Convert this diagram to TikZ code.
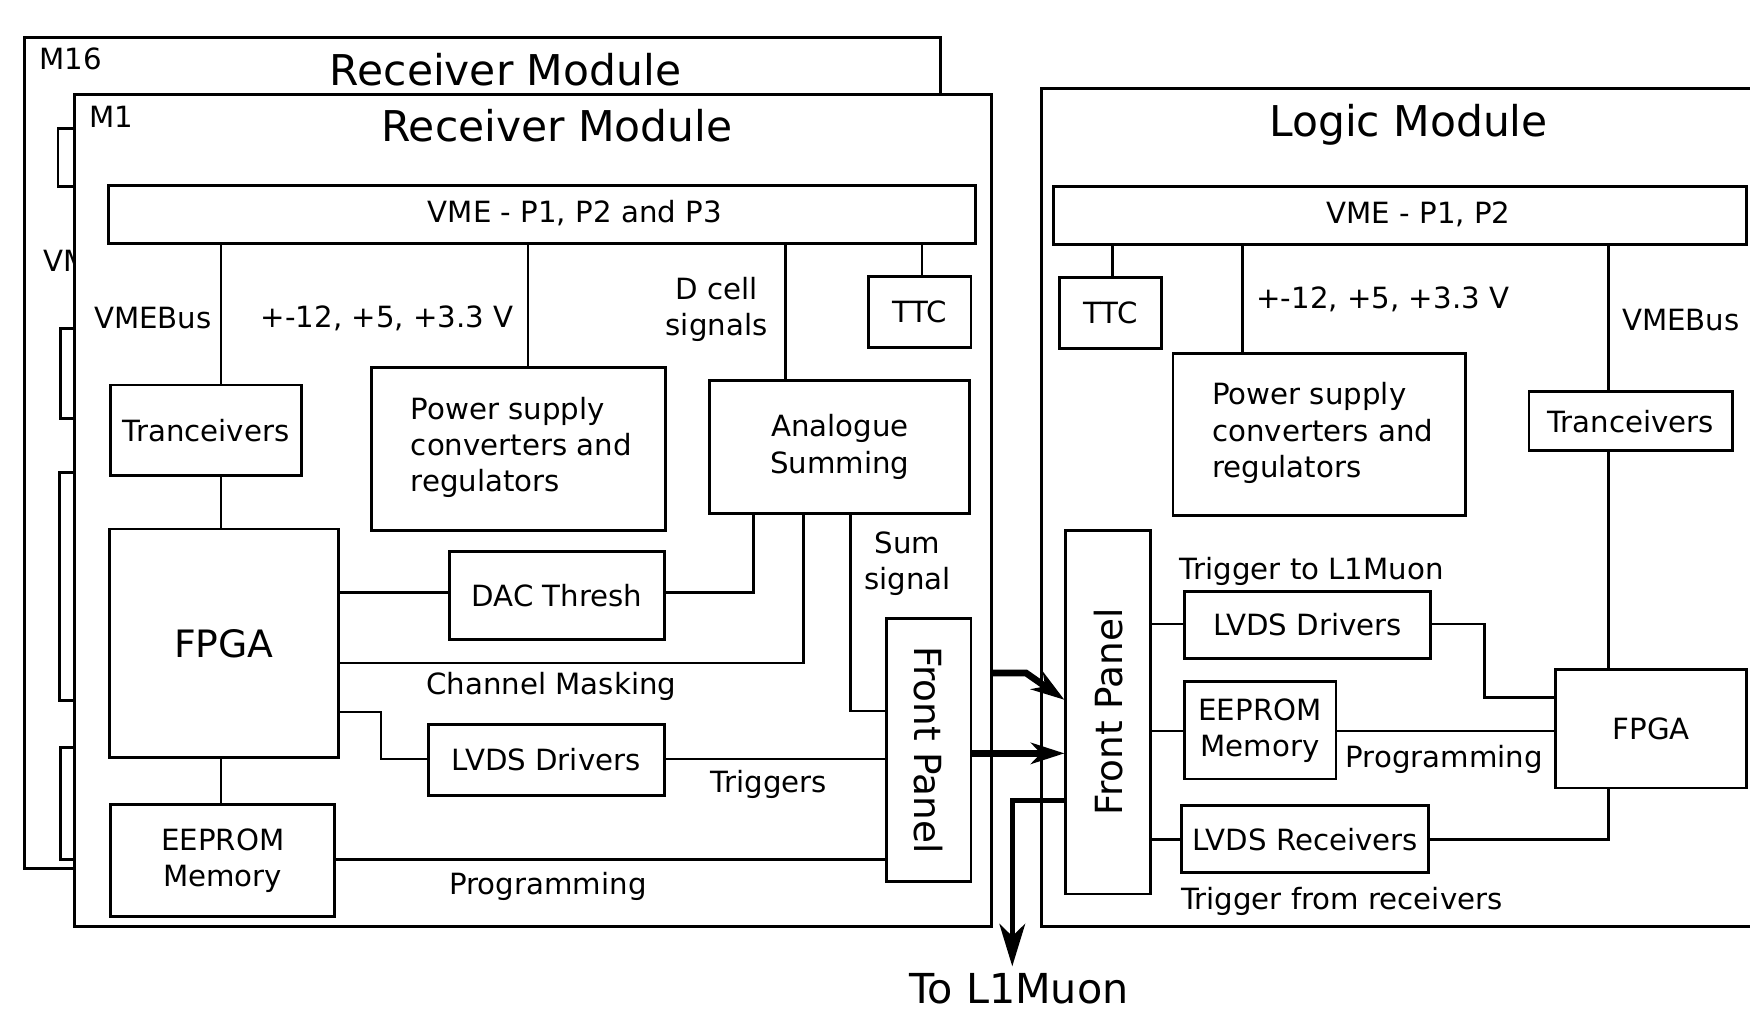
\documentclass[tikz,border=0pt]{standalone}
\usepackage{fontspec}
\setmainfont{DejaVu Sans}
\usetikzlibrary{arrows.meta}
\newcommand{\fsN}{\fontsize{26.2}{32.5}\selectfont}
\newcommand{\fsT}{\fontsize{38}{45}\selectfont}
\newcommand{\fsF}{\fontsize{33.8}{40}\selectfont}
\newcommand{\fsP}{\fontsize{33.5}{40}\selectfont}
\newcommand{\fsL}{\fontsize{37}{44}\selectfont}
\tikzset{
  blk/.style={draw, line width=2.6pt, inner sep=0pt, align=center, font=\fsN},
  conn/.style={line width=2.4pt},
  lbl/.style={inner sep=0pt, align=center, font=\fsN},
  ttl/.style={inner sep=0pt, font=\fsT},
  bigarrow/.style={line width=6pt, -{Stealth[length=30pt,width=19pt,inset=9pt]}},
  outarrow/.style={line width=4.5pt, -{Stealth[length=38pt,width=23pt,inset=11pt]}},
}
% \bnode[opts]{name}{left}{top}{right}{bottom}{text}
\newcommand{\bnode}[7][]{\node[blk,#1,minimum width=#5pt-#3pt,minimum height=#6pt-#4pt] (#2) at ({(#3+#5)/2},{(#4+#6)/2}) {#7};}
\begin{document}
\begin{tikzpicture}[x=1pt,y=-1pt]
\clip (0,0) rectangle (1568,907);
\fill[white] (0,0) rectangle (1568,907);

% ---------------- M16 (behind) ----------------
\bnode{m16}{22}{34}{843}{778}{}
\node[lbl,anchor=west] (m16lab) at (35,53) {M16};
\node[ttl] (m16ttl) at (453,62) {Receiver Module};
\bnode{vme0}{52}{115}{829}{167}{}
\bnode{trx0}{54}{294}{225}{375}{}
\bnode{fpga0}{53}{423}{258}{628}{}
\bnode{eep0}{54}{670}{255}{770}{}
\node[lbl] (vb0) at (92,234) {VMEBus};

% ---------------- M1 ----------------
\bnode[fill=white]{m1}{67}{85}{888}{830}{}
\node[lbl,anchor=west] (m1lab) at (80,105) {M1};
\node[ttl] (m1ttl) at (499,113) {Receiver Module};

\bnode{vme1}{97}{166}{874}{218}{}
\node[lbl] (vme1t) at (515,191) {VME - P1, P2 and P3};
\bnode{ttc1}{778}{248}{870}{311}{TTC}
\bnode{trx1}{99}{345}{270}{426}{Tranceivers}
\bnode{psu1}{333}{329}{596}{475}{}
\node[lbl,align=left,anchor=west] (psu1t) at (368,401) {Power supply\\converters and\\regulators};
\bnode{ana1}{636}{341}{869}{460}{Analogue\\Summing}
\bnode[font=\fsF]{fpga1}{98}{474}{303}{679}{FPGA}
\bnode{dac1}{403}{494}{595}{573}{DAC Thresh}
\bnode{fp1}{794}{554}{870}{790}{}
\node[inner sep=0pt,font=\fsP,rotate=-90] (fp1t) at (fp1.center) {Front Panel};
\bnode{lvds1}{384}{649}{595}{713}{LVDS Drivers}
\bnode{eep1}{99}{721}{300}{821}{EEPROM\\Memory}

\node[lbl] (vb1) at (137,285) {VMEBus};
\node[lbl] (pw1) at (347,285) {+-12, +5, +3.3 V};
\node[lbl] (dc1) at (642,277) {D cell\\signals};
\node[lbl] (ss1) at (813,505) {Sum\\signal};
\node[lbl] (cm1) at (494,615) {Channel Masking};
\node[lbl] (tr1) at (689,703) {Triggers};
\node[lbl] (pg1) at (491,794) {Programming};

\draw[conn] (trx1.north -| 198,0) -- (vme1.south -| 198,0);
\draw[conn] (psu1.north -| 473,0) -- (vme1.south -| 473,0);
\draw[conn] (ana1.north -| 704,0) -- (vme1.south -| 704,0);
\draw[conn] (ttc1.north -| 826,0) -- (vme1.south -| 826,0);
\draw[conn] (trx1.south -| 198,0) -- (fpga1.north -| 198,0);
\draw[conn] (fpga1.east |- 0,531) -- (dac1.west |- 0,531);
\draw[conn] (dac1.east |- 0,531) -| (ana1.south -| 675,0);
\draw[conn] (fpga1.east |- 0,594) -| (ana1.south -| 720,0);
\draw[conn] (ana1.south -| 762,0) |- (fp1.west |- 0,637);
\draw[conn] (fpga1.east |- 0,638) -- ++(37,0) |- (lvds1.west |- 0,680);
\draw[conn] (lvds1.east |- 0,680) -- (fp1.west |- 0,680);
\draw[conn] (fpga1.south -| 198,0) -- (eep1.north -| 198,0);
\draw[conn] (eep1.east |- 0,770) -- (fp1.west |- 0,770);

% ---------------- Logic Module ----------------
\bnode{lm}{933}{79}{1600}{830}{}
\node[ttl] (lmttl) at (1262,112) {Logic Module};
\bnode{vme2}{944}{167}{1565}{219}{}
\node[lbl] (vme2t) at (1271,192) {VME - P1, P2};
\bnode{ttc2}{949}{249}{1041}{312}{TTC}
\bnode{psu2}{1051}{317}{1313}{462}{}
\node[lbl,align=left,anchor=west] (psu2t) at (1086,388) {Power supply\\converters and\\regulators};
\bnode{trx2}{1370}{351}{1552}{404}{Tranceivers}
\bnode{fp2}{955}{475}{1031}{801}{}
\node[inner sep=0pt,font=\fsP,rotate=90] (fp2t) at (fp2.center) {Front Panel};
\bnode{lvds2}{1061}{530}{1282}{590}{LVDS Drivers}
\bnode{eep2}{1061}{611}{1197}{698}{EEPROM\\Memory}
\bnode{lvdsr2}{1059}{722}{1280}{782}{LVDS Receivers}
\bnode{fpga2}{1394}{600}{1565}{706}{FPGA}

\node[lbl] (pw2) at (1239,268) {+-12, +5, +3.3 V};
\node[lbl] (vb2) at (1506,287) {VMEBus};
\node[lbl,anchor=west] (tl2) at (1057,512) {Trigger to L1Muon};
\node[lbl] (pg2) at (1294,680) {Programming};
\node[lbl,anchor=west] (tf2) at (1058,808) {Trigger from receivers};

\draw[conn] (ttc2.north -| 997,0) -- (vme2.south -| 997,0);
\draw[conn] (psu2.north -| 1113,0) -- (vme2.south -| 1113,0);
\draw[conn] (trx2.north -| 1441,0) -- (vme2.south -| 1441,0);
\draw[conn] (trx2.south -| 1441,0) -- (fpga2.north -| 1441,0);
\draw[conn] (fp2.east |- 0,559) -- (lvds2.west |- 0,559);
\draw[conn] (lvds2.east |- 0,559) -- ++(47,0) |- (fpga2.west |- 0,625);
\draw[conn] (fp2.east |- 0,655) -- (eep2.west |- 0,655);
\draw[conn] (eep2.east |- 0,655) -- (fpga2.west |- 0,655);
\draw[conn] (fp2.east |- 0,752) -- (lvdsr2.west |- 0,752);
\draw[conn] (lvdsr2.east |- 0,752) -| (fpga2.south -| 1441,0);

% ---------------- inter-module arrows ----------------
\node[inner sep=0pt,font=\fsL,anchor=base] (l1) at (913,899) {To L1Muon};
\draw[bigarrow] (m1.east |- 0,603) -- ++(30,0) -- (fp2.west |- 0,627);
\draw[bigarrow] (fp1.east |- 0,675) -- (fp2.west |- 0,675);
\draw[outarrow,shorten >=6pt] (fp2.west |- 0,717) -| (l1.north -| 907,0);
\end{tikzpicture}
\end{document}
